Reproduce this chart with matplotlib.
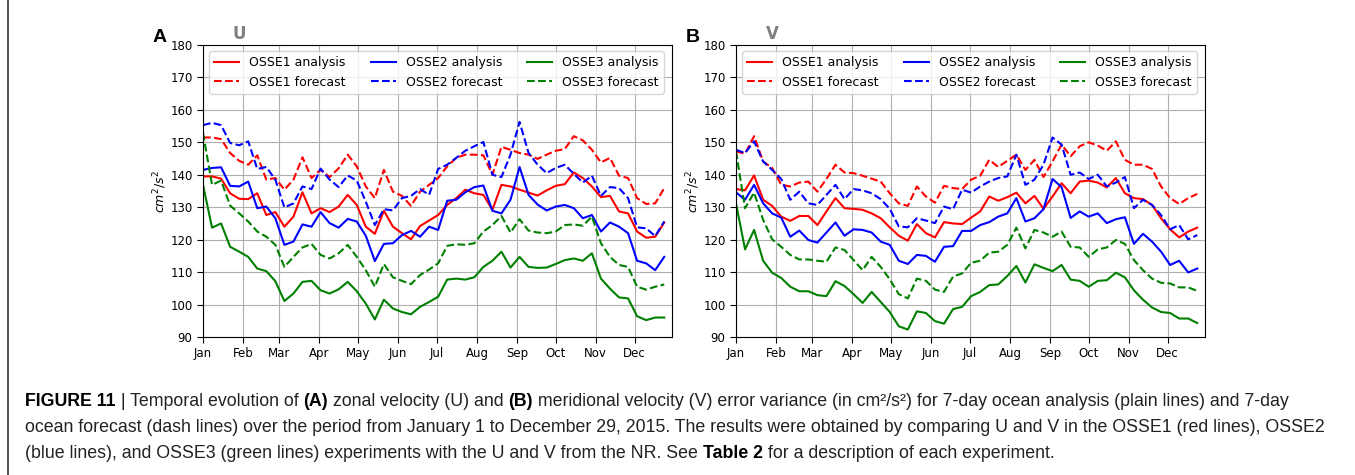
import matplotlib
matplotlib.use("Agg")
import matplotlib.pyplot as plt
from matplotlib.lines import Line2D
import numpy as np

# ---------------- data (weekly values, Jan 1 .. Dec 24, 2015) ----------------
month_labels = ["Jan", "Feb", "Mar", "Apr", "May", "Jun",
                "Jul", "Aug", "Sep", "Oct", "Nov", "Dec"]
month_start_day = [0, 31, 59, 90, 120, 151, 181, 212, 243, 273, 304, 334]
n_weeks = 52
day = np.arange(n_weeks) * 7

# Panel A: U
u_osse1_analysis = [139.5, 139.5, 138.8, 134.3, 132.6, 132.5, 134.3, 127.6, 128.5, 124.0,
                    127.1, 134.6, 128.1, 129.7, 128.5, 130.2, 133.8, 130.7, 124.0, 121.8,
                    128.9, 124.0, 122.0, 120.1, 124.2, 125.9, 127.6, 130.7, 132.8, 135.4,
                    134.3, 133.8, 129.2, 136.9, 136.4, 135.4, 134.5, 133.6, 135.2, 136.6,
                    137.1, 140.7, 139.0, 136.4, 133.1, 133.5, 128.7, 128.1, 122.5, 120.6,
                    120.9, 125.3]
u_osse1_forecast = [151.5, 151.5, 151.0, 146.7, 144.3, 143.1, 146.0, 138.5, 139.0, 135.4,
                    138.5, 145.4, 139.0, 141.5, 139.3, 142.0, 146.2, 142.6, 136.4, 132.8,
                    141.5, 134.8, 133.5, 130.4, 134.8, 136.9, 139.0, 142.6, 145.2, 146.2,
                    146.2, 146.0, 140.0, 148.6, 147.7, 146.7, 146.2, 144.9, 146.2, 147.4,
                    147.9, 151.9, 150.6, 147.7, 143.8, 145.2, 139.7, 139.0, 132.8, 131.0,
                    131.2, 135.9]
u_osse2_analysis = [141.5, 142.1, 142.3, 136.6, 136.4, 137.9, 129.7, 130.2, 126.6, 118.4,
                    119.4, 124.7, 124.0, 128.5, 125.1, 123.7, 126.4, 125.6, 121.2, 113.4,
                    118.7, 118.9, 121.4, 122.7, 120.9, 124.0, 123.0, 132.0, 132.3, 134.6,
                    136.2, 136.7, 128.9, 128.1, 132.3, 142.4, 133.8, 130.8, 129.0, 130.2,
                    130.7, 129.7, 126.6, 127.6, 122.5, 125.3, 124.0, 122.0, 113.5, 112.7,
                    110.6, 114.7]
u_osse2_forecast = [155.3, 156.0, 155.3, 149.8, 149.1, 150.3, 141.8, 142.4, 138.5, 129.9,
                    131.2, 136.4, 135.6, 141.9, 138.5, 136.2, 139.8, 138.2, 131.7, 124.5,
                    129.4, 129.0, 132.8, 133.5, 135.6, 133.8, 141.8, 143.1, 145.2, 147.4,
                    148.8, 150.1, 140.0, 139.3, 146.2, 156.3, 146.7, 143.1, 140.5, 142.1,
                    143.1, 140.3, 137.6, 139.7, 133.5, 136.2, 135.9, 132.8, 123.8, 123.5,
                    121.1, 125.6]
u_osse3_analysis = [136.9, 123.7, 125.0, 117.8, 116.3, 114.7, 111.1, 110.3, 107.2, 101.1,
                    103.4, 107.0, 107.3, 104.4, 103.4, 104.7, 107.0, 104.1, 100.3, 95.4,
                    101.5, 98.8, 97.7, 97.0, 99.3, 100.8, 102.4, 107.7, 108.0, 107.7,
                    108.4, 111.6, 113.5, 116.3, 111.4, 114.7, 111.6, 111.3, 111.4, 112.5,
                    113.7, 114.2, 113.5, 115.8, 108.0, 104.9, 102.2, 101.9, 96.4, 95.2,
                    96.0, 96.0]
u_osse3_forecast = [152.9, 136.9, 138.2, 130.5, 128.1, 125.6, 122.5, 120.9, 118.4, 111.6,
                    114.7, 117.6, 118.7, 115.3, 114.2, 115.8, 118.4, 114.7, 110.6, 105.5,
                    112.5, 108.4, 107.3, 106.3, 109.1, 110.8, 112.7, 118.1, 118.6, 118.4,
                    118.9, 122.5, 124.5, 127.3, 122.2, 126.3, 122.8, 122.2, 122.0, 122.5,
                    124.5, 124.7, 124.3, 127.1, 118.9, 114.7, 112.2, 111.6, 105.5, 104.6,
                    105.5, 106.2]

# Panel B: V
v_osse1_analysis = [135.6, 135.2, 139.8, 132.3, 130.4, 127.1, 125.8, 127.3, 127.3, 124.5,
                    128.7, 132.8, 129.7, 129.5, 129.2, 128.1, 126.6, 123.8, 121.2, 119.7,
                    124.8, 122.0, 120.7, 125.4, 125.0, 124.8, 126.8, 128.7, 133.3, 132.0,
                    133.1, 134.5, 131.2, 133.5, 129.5, 133.3, 137.4, 134.3, 137.9, 138.2,
                    137.6, 136.1, 139.0, 134.3, 132.8, 132.5, 130.7, 126.6, 123.2, 120.7,
                    122.5, 123.7]
v_osse1_forecast = [147.2, 146.5, 151.9, 144.1, 142.1, 136.9, 136.4, 137.6, 137.9, 134.8,
                    138.7, 143.1, 140.7, 140.5, 139.7, 138.8, 137.9, 134.3, 131.2, 130.4,
                    136.4, 133.3, 131.4, 136.6, 135.9, 135.6, 138.5, 139.7, 144.6, 142.4,
                    144.3, 146.2, 141.5, 144.6, 139.3, 144.1, 149.3, 145.7, 148.8, 150.0,
                    149.0, 147.4, 150.3, 144.6, 143.1, 143.1, 141.8, 136.4, 132.8, 131.0,
                    132.8, 134.1]
v_osse2_analysis = [134.6, 132.3, 136.9, 131.2, 128.1, 126.8, 120.9, 122.8, 119.9, 119.1,
                    122.2, 125.3, 121.2, 123.2, 123.0, 122.2, 119.4, 118.4, 113.5, 112.5,
                    115.3, 115.0, 113.2, 117.8, 118.0, 122.7, 122.7, 124.5, 125.4, 127.1,
                    128.1, 132.8, 125.6, 126.6, 129.4, 138.7, 136.2, 126.7, 128.7, 127.1,
                    128.1, 125.1, 126.3, 126.9, 118.7, 121.8, 119.4, 116.3, 112.2, 113.5,
                    109.9, 111.1]
v_osse2_forecast = [147.7, 146.7, 150.3, 144.1, 141.5, 138.7, 132.3, 134.8, 131.2, 130.7,
                    133.8, 136.9, 132.5, 135.6, 135.2, 134.3, 132.5, 129.5, 124.1, 123.8,
                    126.6, 125.9, 125.1, 130.2, 129.4, 135.4, 134.5, 136.4, 137.9, 139.0,
                    139.5, 146.2, 136.9, 138.5, 143.1, 151.5, 149.3, 140.0, 140.7, 138.7,
                    140.0, 136.4, 137.6, 139.3, 129.7, 132.3, 130.7, 127.6, 123.2, 124.5,
                    120.1, 121.4]
v_osse3_analysis = [131.2, 117.0, 123.0, 113.5, 109.8, 108.2, 105.5, 104.1, 104.1, 102.9,
                    102.6, 107.2, 105.7, 103.2, 100.5, 103.9, 100.8, 97.7, 93.3, 92.3,
                    97.9, 97.4, 94.9, 94.1, 98.6, 99.3, 102.6, 103.9, 106.0, 106.2,
                    108.8, 111.9, 106.8, 112.4, 111.3, 110.3, 112.2, 107.7, 107.3, 105.5,
                    107.3, 107.5, 109.8, 108.4, 104.4, 101.5, 99.1, 97.7, 97.4, 95.7,
                    95.7, 94.3]
v_osse3_forecast = [147.2, 129.7, 134.5, 126.1, 120.1, 117.8, 115.3, 113.9, 113.9, 113.5,
                    113.2, 117.6, 116.8, 113.7, 110.6, 114.7, 111.6, 107.8, 103.2, 101.9,
                    108.0, 107.3, 104.6, 103.9, 108.6, 109.6, 112.9, 113.5, 116.0, 116.3,
                    118.4, 123.7, 117.3, 123.0, 122.2, 120.9, 122.5, 117.8, 117.6, 114.7,
                    117.0, 117.6, 119.9, 118.7, 113.7, 110.6, 108.0, 106.7, 106.5, 105.3,
                    105.3, 104.2]

series_labels = ["OSSE1 analysis", "OSSE1 forecast", "OSSE2 analysis",
                 "OSSE2 forecast", "OSSE3 analysis", "OSSE3 forecast"]
panel_letters = ["A", "B"]
panel_titles = ["U", "V"]
ylabel = r"$cm^2/s^2$"

caption_lines = [
    [("FIGURE 11", "bold"), (" | Temporal evolution of ", "normal"), ("(A)", "bold"),
     (" zonal velocity (U) and ", "normal"), ("(B)", "bold"),
     (" meridional velocity (V) error variance (in cm\u00b2/s\u00b2) for 7-day ocean analysis (plain lines) and 7-day", "normal")],
    [("ocean forecast (dash lines) over the period from January 1 to December 29, 2015. The results were obtained by comparing U and V in the OSSE1 (red lines), OSSE2", "normal")],
    [("(blue lines), and OSSE3 (green lines) experiments with the U and V from the NR. See ", "normal"),
     ("Table 2", "bold"), (" for a description of each experiment.", "normal")],
]

# ---------------- figure ----------------
W, H = 1355, 475
fig = plt.figure(figsize=(W / 100, H / 100), dpi=100)
fig.patch.set_facecolor("white")

def px_axes(left, top, right, bottom):
    return [left / W, 1 - bottom / H, (right - left) / W, (bottom - top) / H]

axes_boxes = [px_axes(203, 45, 672, 337), px_axes(736, 45, 1205, 337)]
panel_data = [
    [u_osse1_analysis, u_osse1_forecast, u_osse2_analysis, u_osse2_forecast, u_osse3_analysis, u_osse3_forecast],
    [v_osse1_analysis, v_osse1_forecast, v_osse2_analysis, v_osse2_forecast, v_osse3_analysis, v_osse3_forecast],
]
colors = ["red", "red", "blue", "blue", "green", "green"]
styles = ["-", "--", "-", "--", "-", "--"]

for i, box in enumerate(axes_boxes):
    ax = fig.add_axes(box)
    for vals, c, ls, lab in zip(panel_data[i], colors, styles, series_labels):
        ax.plot(day, vals, color=c, linestyle=ls, linewidth=1.5, label=lab)
    ax.set_xlim(0, 363)
    ax.set_ylim(90, 180)
    ax.set_yticks(np.arange(90, 181, 10))
    ax.set_xticks(month_start_day)
    ax.set_xticklabels(month_labels)
    ax.tick_params(labelsize=8.5, length=4)
    ax.grid(True, color="#b0b0b0", linewidth=0.8)
    ax.set_axisbelow(True)
    ax.legend(ncol=3, loc="upper left", fontsize=9, framealpha=0.8)
    left_px = box[0] * W
    fig.text((left_px - 50) / W, 1 - 42 / H, panel_letters[i], fontsize=14,
             fontweight="bold", family="Liberation Sans", ha="left", va="baseline")
    fig.text((left_px + 30) / W, 1 - 39 / H, panel_titles[i], fontsize=12,
             fontweight="bold", color="#808080", ha="left", va="baseline")
    fig.text((left_px - 43) / W, 1 - 191 / H, ylabel, fontsize=9, rotation=90,
             ha="center", va="center")

# left border line
fig.add_artist(Line2D([8 / W, 8 / W], [0, 1], transform=fig.transFigure,
                      color="#333333", linewidth=1.2))

# ---------------- caption ----------------
cap_family = ["Liberation Sans Narrow", "Liberation Sans", "DejaVu Sans"]
renderer = fig.canvas.get_renderer()

def run_width(s, weight, size):
    t1 = fig.text(0, 0, s + "|", fontsize=size, fontweight=weight, family=cap_family)
    t2 = fig.text(0, 0, "|", fontsize=size, fontweight=weight, family=cap_family)
    w = t1.get_window_extent(renderer).width - t2.get_window_extent(renderer).width
    t1.remove(); t2.remove()
    return w

ref_size = 10.0
w_line1 = sum(run_width(s, wt, ref_size) for s, wt in caption_lines[0])
w_line2 = sum(run_width(s, wt, ref_size) for s, wt in caption_lines[1])
cap_size = ref_size * ((1318 - 25) + (1313 - 25)) / (w_line1 + w_line2)

cap_x0 = 25
cap_baselines = [406, 432, 458]
for line, yb in zip(caption_lines, cap_baselines):
    x = cap_x0
    for s, wt in line:
        fig.text(x / W, 1 - yb / H, s, fontsize=cap_size, fontweight=wt,
                 family=cap_family, ha="left", va="baseline",
                 color="#222222" if wt == "normal" else "black")
        x += run_width(s, wt, cap_size)

fig.savefig("out.png", dpi=100)
